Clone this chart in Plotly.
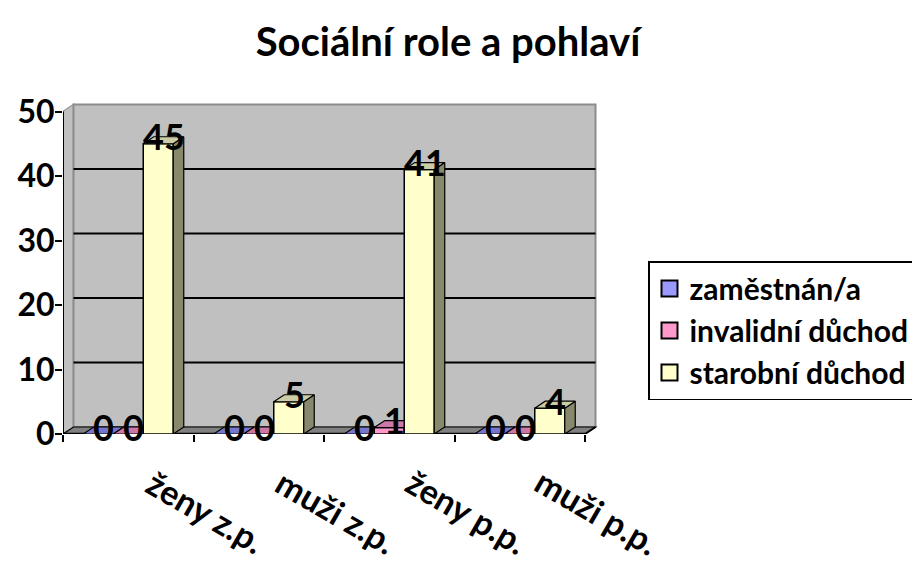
import plotly.graph_objects as go

# ---- data ----
categories = ["ženy z.p.", "muži z.p.", "ženy p.p.", "muži p.p."]
series_names = ["zaměstnán/a", "invalidní důchod", "starobní důchod"]
zamestnan = [0, 0, 0, 0]
invalidni = [0, 0, 1, 0]
starobni = [45, 5, 41, 4]
y_ticks = [0, 10, 20, 30, 40, 50]
title_text = "Sociální role a pohlaví"

series_values = [zamestnan, invalidni, starobni]

# ---- styles ----
front_cols = ["#9999FF", "#FF99CC", "#FFFFCC"]
top_cols = ["#7676CC", "#CC77A6", "#CCCCA6"]
side_cols = ["#5C5C99", "#995C7C", "#88886C"]
FONT = "Lato"

W, H = 912, 565
PL, PR, PT, PB = 63, 600, 100, 434          # plot area in pixels
px_x = 130.5                                 # pixels per category unit
px_y = (434 - 111.5) / 50.0                  # pixels per value unit
x_range = [-0.5, -0.5 + (PR - PL) / px_x]
y_range = [0, (PB - PT) / px_y]
dx = 10.5 / px_x                             # 3d depth in data units
dy = 7.0 / px_y
bw = 30.0 / px_x                             # bar width
group_start = -1.5 * bw

x_pos = list(range(len(categories)))
fig = go.Figure()

axes_names = [("x", "y"), ("x2", "y2"), ("x3", "y3")]
annotations = []
for j, (name, vals) in enumerate(zip(series_names, series_values)):
    xa, ya = axes_names[j]
    off = group_start + j * bw
    fig.add_trace(go.Bar(
        x=x_pos, y=vals, width=bw, offset=off, name=name,
        marker=dict(color=front_cols[j], line=dict(color="black", width=1.5)),
        xaxis=xa, yaxis=ya, legendgroup=name, showlegend=False, hoverinfo="skip",
    ))
    tx, ty, sx, sy = [], [], [], []
    for i, v in zip(x_pos, vals):
        x0 = i + off
        x1 = x0 + bw
        tx += [x0, x1, x1 + dx, x0 + dx, x0, None]
        ty += [v, v, v + dy, v + dy, v, None]
        sx += [x1, x1, x1 + dx, x1 + dx, x1, None]
        sy += [0, v, v + dy, dy, 0, None]
        annotations.append(dict(
            x=x0 + bw / 2 + dx / 2, y=v + dy / 2 + 0.6, xref="x", yref="y",
            text=str(v), showarrow=False, xanchor="center", yanchor="middle",
            font=dict(family=FONT, size=36, color="black", weight="bold"),
        ))
    fig.add_trace(go.Scatter(
        x=sx, y=sy, mode="lines", fill="toself", fillcolor=side_cols[j],
        line=dict(color="black", width=1.2), xaxis=xa, yaxis=ya,
        showlegend=False, hoverinfo="skip",
    ))
    fig.add_trace(go.Scatter(
        x=tx, y=ty, mode="lines", fill="toself", fillcolor=top_cols[j],
        line=dict(color="black", width=1.2), xaxis=xa, yaxis=ya,
        showlegend=False, hoverinfo="skip",
    ))

# legend entries (square swatches like the original)
for j, name in enumerate(series_names):
    fig.add_trace(go.Scatter(
        x=[None], y=[None], mode="markers", name=name, legendgroup=name,
        marker=dict(symbol="square", size=16, color=front_cols[j],
                    line=dict(color="black", width=2)),
        showlegend=True, hoverinfo="skip",
    ))

# category labels (rotated, placed below the axis in paper coordinates)
for i, c in zip(x_pos, categories):
    cx_px = PL + (i + 0.5) * px_x + 78
    annotations.append(dict(
        x=(cx_px - PL) / (PR - PL), y=(PB - 511) / (PB - PT),
        xref="paper", yref="paper",
        text=c, showarrow=False, textangle=30, xanchor="center", yanchor="middle",
        font=dict(family=FONT, size=34, color="black", weight="bold"),
    ))

xl, xr = -0.5, len(categories) - 0.5
ytop = y_ticks[-1]
shapes = []
# left side wall
shapes.append(dict(type="path", xref="x", yref="y", layer="below",
                   path=f"M{xl},0 L{xl},{ytop} L{xl+dx},{ytop+dy} L{xl+dx},{dy} Z",
                   fillcolor="#C0C0C0", line=dict(color="#A0A0A0", width=1.5)))
# back wall
shapes.append(dict(type="rect", xref="x", yref="y", layer="below",
                   x0=xl + dx, y0=dy, x1=xr + dx, y1=ytop + dy,
                   fillcolor="#C0C0C0", line=dict(color="#8C8C8C", width=2)))
# floor
shapes.append(dict(type="path", xref="x", yref="y", layer="below",
                   path=f"M{xl},0 L{xr},0 L{xr+dx},{dy} L{xl+dx},{dy} Z",
                   fillcolor="#808080", line=dict(color="black", width=1.2)))
# gridlines on back wall
for t in y_ticks[1:-1]:
    shapes.append(dict(type="line", xref="x", yref="y", layer="below",
                       x0=xl + dx, y0=t + dy, x1=xr + dx, y1=t + dy,
                       line=dict(color="black", width=2)))
# axis lines
shapes.append(dict(type="line", xref="x", yref="y", layer="below",
                   x0=xl, y0=0, x1=xl, y1=ytop, line=dict(color="black", width=2)))
shapes.append(dict(type="line", xref="x", yref="y", layer="below",
                   x0=xl, y0=0, x1=xr, y1=0, line=dict(color="black", width=2.5)))
shapes.append(dict(type="line", xref="x", yref="y", layer="below",
                   x0=xr, y0=0, x1=xr + dx, y1=dy, line=dict(color="black", width=2)))

hidden = dict(range=x_range, visible=False, fixedrange=True)
hidden_y = dict(range=y_range, visible=False, fixedrange=True)

fig.update_layout(
    width=W, height=H,
    margin=dict(l=PL, r=W - PR, t=PT, b=H - PB, autoexpand=False),
    paper_bgcolor="white", plot_bgcolor="rgba(0,0,0,0)",
    title=dict(text=title_text, x=448 / W, xref="container", xanchor="center",
               y=1 - 42 / H, yref="container", yanchor="middle",
               font=dict(family=FONT, size=40, color="black", weight="bold")),
    xaxis=dict(range=x_range, tickvals=[k - 0.5 for k in range(len(categories) + 1)],
               ticks="outside", ticklen=7, tickwidth=2, tickcolor="black",
               showticklabels=False, showgrid=False, zeroline=False, showline=False,
               fixedrange=True),
    yaxis=dict(range=y_range, tickvals=y_ticks, ticks="outside", ticklen=7,
               tickwidth=2, tickcolor="black", showgrid=False, zeroline=False,
               showline=False, fixedrange=True, ticklabelstandoff=-6,
               tickfont=dict(family=FONT, size=32, color="black", weight="bold")),
    xaxis2=dict(overlaying="x", **hidden), yaxis2=dict(overlaying="y", **hidden_y),
    xaxis3=dict(overlaying="x", **hidden), yaxis3=dict(overlaying="y", **hidden_y),
    legend=dict(x=(648 - PL) / (PR - PL), xanchor="left",
                y=(PB - 261) / (PB - PT), yanchor="top",
                bordercolor="black", borderwidth=1.5, bgcolor="white",
                font=dict(family=FONT, size=30, color="black", weight="bold"),
                traceorder="grouped", tracegroupgap=0, itemsizing="trace"),
    shapes=shapes, annotations=annotations, showlegend=True,
)

fig.write_html("out.html", config={"displayModeBar": False},
               post_script="document.body.style.margin='0';")
